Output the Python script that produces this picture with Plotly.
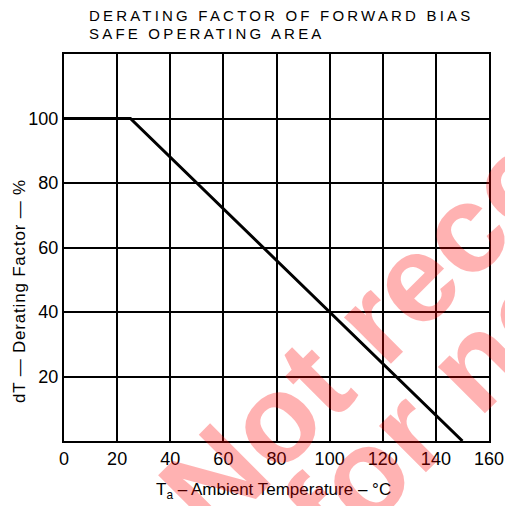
import plotly.graph_objects as go

# Data
temp_c = [0, 25, 150]
derating_pct = [100, 100, 0]
x_ticks = [0, 20, 40, 60, 80, 100, 120, 140, 160]
y_ticks = [20, 40, 60, 80, 100]

L, R, T, B = 64, 16, 54, 65
W, H = 505, 506
PW, PH = W - L - R, H - T - B

def px(X):
    return (X - L) / PW

def py(Y):
    return (H - B - Y) / PH

fig = go.Figure()
fig.add_trace(go.Scatter(
    x=temp_c, y=derating_pct, mode="lines",
    line=dict(color="black", width=3), showlegend=False, hoverinfo="skip"))

font = "Liberation Sans, Arial, sans-serif"

fig.update_layout(
    width=W, height=H,
    margin=dict(l=L, r=R, t=T, b=B, autoexpand=False),
    paper_bgcolor="white", plot_bgcolor="white",
    xaxis=dict(range=[0, 160], tickvals=x_ticks, showgrid=True, gridcolor="black",
               gridwidth=1.6, showline=True, linecolor="black", linewidth=2.2,
               mirror=True, zeroline=False, ticks="", ticklabelstandoff=0,
               tickfont=dict(family=font, size=18, color="black")),
    yaxis=dict(range=[0, 120], tickvals=y_ticks, showgrid=True, gridcolor="black",
               gridwidth=1.6, showline=True, linecolor="black", linewidth=2.2,
               mirror=True, zeroline=False, ticks="inside", ticklen=3, tickwidth=1.5,
               tickcolor="black", ticklabelstandoff=0,
               tickfont=dict(family=font, size=18, color="black")),
)

ann = []
ann.append(dict(text='<span style="letter-spacing:3.2px">DERATING FACTOR OF FORWARD BIAS</span>',
                x=px(87), y=py(15.5), xref="paper", yref="paper", xanchor="left", yanchor="middle",
                showarrow=False, font=dict(family=font, size=15, color="black")))
ann.append(dict(text='<span style="letter-spacing:3.2px">SAFE OPERATING AREA</span>',
                x=px(87), y=py(33.5), xref="paper", yref="paper", xanchor="left", yanchor="middle",
                showarrow=False, font=dict(family=font, size=15, color="black")))
ann.append(dict(text="T<sub>a</sub> – Ambient Temperature – °C",
                x=px(273), y=py(491), xref="paper", yref="paper", xanchor="center", yanchor="middle",
                showarrow=False, font=dict(family=font, size=17, color="black")))
ann.append(dict(text='<span style="letter-spacing:0.8px">dT — Derating Factor — %</span>', textangle=-90,
                x=px(19), y=py(291), xref="paper", yref="paper", xanchor="center", yanchor="middle",
                showarrow=False, font=dict(family=font, size=17, color="black")))
# watermark
wm_color = "rgba(255,0,0,0.3)"
ann.append(dict(text="<b>Not recommended</b>", textangle=-45,
                x=px(570), y=py(124), xref="paper", yref="paper", xanchor="center", yanchor="middle",
                showarrow=False, font=dict(family=font, size=125, color=wm_color)))
ann.append(dict(text="<b>for new design</b>", textangle=-45,
                x=px(617), y=py(219), xref="paper", yref="paper", xanchor="center", yanchor="middle",
                showarrow=False, font=dict(family=font, size=125, color=wm_color)))
fig.update_layout(annotations=ann)

fig.write_html("out.html", config={"displayModeBar": False},
               post_script="document.body.style.margin='0';")
